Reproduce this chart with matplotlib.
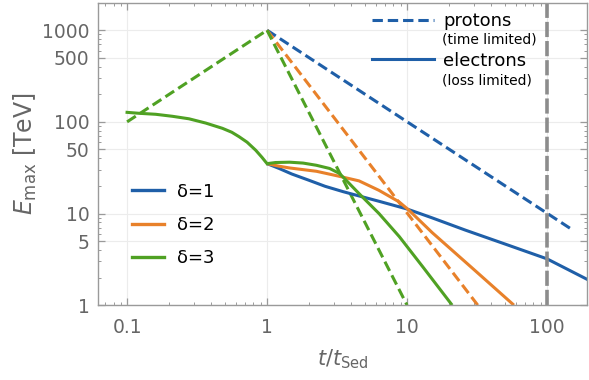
import matplotlib as mpl
mpl.use('Agg')
import matplotlib.pyplot as plt
from matplotlib.lines import Line2D
from matplotlib.ticker import FixedLocator, NullFormatter

# data
t_rise = [0.1, 1.0]
E_rise = [100, 1000]

# protons (time limited), straight lines in log-log after t=1
t_prot = {1: [1.0, 155.0], 2: [1.0, 32.0], 3: [1.0, 10.0]}
E_prot = {1: [1000, 6.5], 2: [1000, 1.0], 3: [1000, 1.0]}

# electrons (loss limited), common part before t=1
t_el0 = [0.1, 0.122, 0.16, 0.211, 0.277, 0.365, 0.48, 0.56, 0.63, 0.72, 0.83, 0.92, 1.0]
E_el0 = [127, 124, 121, 115, 108, 97, 85, 77, 69, 60, 49, 41, 35]

t_el = {
    1: [1.0, 1.22, 1.5, 2.0, 2.6, 3.5, 4.5, 6.3, 10, 15, 26, 50, 100, 195],
    2: [1.0, 1.22, 1.45, 2.25, 3.27, 4.54, 6.3, 8.77, 10.3, 15.1, 30, 58],
    3: [1.0, 1.15, 1.45, 1.81, 2.25, 2.8, 3.27, 3.49, 4.54, 6.3, 8.8, 13, 21],
}
E_el = {
    1: [35, 31, 27, 23, 19.8, 17.3, 15.6, 13.6, 11.2, 9.0, 6.6, 4.65, 3.2, 1.9],
    2: [35, 32.8, 31.4, 28.9, 25.5, 22.7, 17.9, 13.4, 10.9, 6.2, 2.45, 1.0],
    3: [35, 36, 36.3, 35.5, 33.6, 31, 27.5, 25, 16.5, 10.0, 5.6, 2.6, 1.0],
}

colors = {1: '#1f5fa8', 2: '#e8812a', 3: '#4fa123'}
t_sed_mark = 100

fig = plt.figure(figsize=(5.89, 3.8), dpi=100)
ax = fig.add_axes([0.1664, 0.197, 0.8302, 0.795])

lw = 2.2
dash = (3.4, 1.6)
for d in [1, 2, 3]:
    ax.plot(t_prot[d], E_prot[d], color=colors[d], lw=lw, dashes=dash)
for d in [1, 2, 3]:
    ax.plot(t_el[d], E_el[d], color=colors[d], lw=lw, solid_capstyle='butt')
# common early parts, drawn in the last colour like the reference
ax.plot(t_rise, E_rise, color=colors[3], lw=lw, dashes=dash)
ax.plot(t_el0, E_el0, color=colors[3], lw=lw, solid_joinstyle='round')

ax.axvline(t_sed_mark, color='#8c8c8c', lw=2.6, dashes=(4.2, 1.1))

ax.set_xscale('log')
ax.set_yscale('log')
ax.set_xlim(0.062, 193)
ax.set_ylim(1, 1980)

ax.xaxis.set_major_locator(FixedLocator([0.1, 1, 10, 100]))
ax.set_xticklabels(['0.1', '1', '10', '100'])
xminor = [m * 10.0 ** k for k in range(-2, 3) for m in range(2, 10)]
ax.xaxis.set_minor_locator(FixedLocator(xminor))
ax.xaxis.set_minor_formatter(NullFormatter())

yticks = [1, 5, 10, 50, 100, 500, 1000]
ax.yaxis.set_major_locator(FixedLocator(yticks))
ax.set_yticklabels([str(v) for v in yticks])
yminor = [m * 10.0 ** k for k in range(0, 4) for m in [2, 3, 4, 6, 7, 8, 9]]
ax.yaxis.set_minor_locator(FixedLocator(yminor))
ax.yaxis.set_minor_formatter(NullFormatter())

ax.grid(True, which='major', color='#ececec', lw=0.8)
ax.set_axisbelow(True)

for s in ax.spines.values():
    s.set_color('#9a9a9a')
    s.set_linewidth(1.0)
ax.tick_params(which='both', direction='in', top=True, right=True,
               color='#9a9a9a', labelcolor='#666666', labelsize=13.5)
ax.tick_params(which='major', length=5, width=0.9)
ax.tick_params(axis='x', which='major', pad=9)
ax.tick_params(axis='y', which='major', pad=6)
ax.tick_params(which='minor', length=2.5, width=0.7)

ax.set_xlabel(r'$t/t_{\rm Sed}$', fontsize=15, color='#666666', labelpad=8)
ax.set_ylabel(r'$E_{\rm max}$ [TeV]', fontsize=17, color='#666666', labelpad=2)

# delta legend
h_d = [Line2D([], [], color=colors[d], lw=2.4) for d in [1, 2, 3]]
leg1 = ax.legend(h_d, ['δ=1', 'δ=2', 'δ=3'], loc='upper left',
                 bbox_to_anchor=(0.07, 0.405), frameon=False, fontsize=13,
                 handlelength=1.75, handletextpad=0.75, labelspacing=0.85,
                 borderpad=0, borderaxespad=0)
ax.add_artist(leg1)

# species legend
h_s = [Line2D([], [], color=colors[1], lw=lw, dashes=dash),
       Line2D([], [], color=colors[1], lw=lw)]
ax.legend(h_s, ['protons', 'electrons'], loc='upper left',
          bbox_to_anchor=(0.56, 0.97), frameon=False, fontsize=13,
          handlelength=3.45, handletextpad=0.5, labelspacing=1.2,
          borderpad=0, borderaxespad=0)
ax.text(0.703, 0.878, '(time limited)', transform=ax.transAxes,
        fontsize=10, va='center', ha='left')
ax.text(0.703, 0.742, '(loss limited)', transform=ax.transAxes,
        fontsize=10, va='center', ha='left')

plt.savefig('out.png', dpi=100)
